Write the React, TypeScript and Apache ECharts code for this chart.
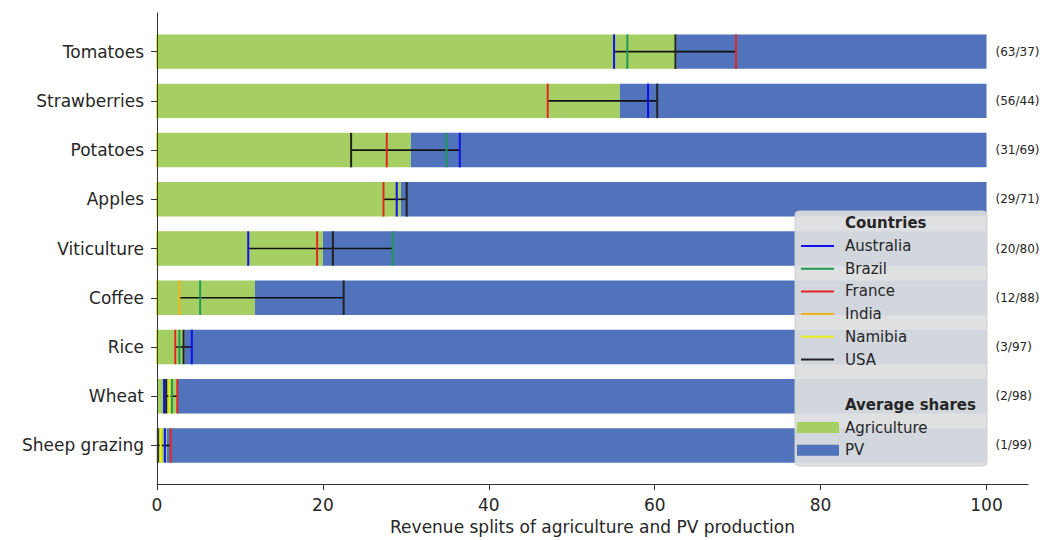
import React, { useEffect, useRef } from "react";
import * as echarts from "echarts";

// ---------------- data ----------------
const crops = [
  "Tomatoes",
  "Strawberries",
  "Potatoes",
  "Apples",
  "Viticulture",
  "Coffee",
  "Rice",
  "Wheat",
  "Sheep grazing",
];
const agricultureShare = [62.6, 55.8, 30.6, 29.4, 20.0, 11.8, 3.3, 2.4, 1.2];
const pvShare = [37.4, 44.2, 69.4, 70.6, 80.0, 88.2, 96.7, 97.6, 98.8];
const splitLabels = ["(63/37)", "(56/44)", "(31/69)", "(29/71)", "(20/80)", "(12/88)", "(3/97)", "(2/98)", "(1/99)"];

const countryNames = ["Australia", "Brazil", "France", "India", "Namibia", "USA"];
const australia = [55.1, 59.2, 36.5, 28.9, 11.0, null, 4.2, 0.85, 0.95];
const brazil = [56.7, null, 34.9, null, 28.4, 5.2, 2.7, 1.8, null];
const france = [69.8, 47.1, 27.7, 27.3, 19.3, null, 2.2, 2.45, 1.65];
const india = [null, null, null, null, null, 2.7, null, null, null];
const namibia = [0, 0, 0, 0, 0, 0, 0, 1.5, 0.45];
const usa = [62.5, 60.3, 23.4, 30.1, 21.2, 22.5, 3.2, 1.1, 0.1];

const xTicks = [0, 20, 40, 60, 80, 100];

// ---------------- styles ----------------
const countryColors = ["#1010f0", "#1f9a55", "#e42626", "#f3b31a", "#ecec1e", "#222222"];
const agriColor = "#a6cf63";
const pvColor = "#5073bb";
const FONT = "DejaVu Sans";
const TEXT = "#262626";
const BAR_H = 0.7;

export default function App() {
  const ref = useRef<HTMLDivElement>(null);

  useEffect(() => {
    if (!ref.current) return;
    const chart = echarts.init(ref.current, undefined, { renderer: "svg" });

    const countries = [australia, brazil, france, india, namibia, usa];

    const rectItem = (color: string) => (params: any, api: any) => {
      const idx = api.value(2);
      const s = api.coord([api.value(0), idx]);
      const e = api.coord([api.value(1), idx]);
      const h = api.size([0, BAR_H])[1];
      return {
        type: "rect",
        shape: { x: s[0], y: s[1] - h / 2, width: e[0] - s[0], height: h },
        style: { fill: color },
      };
    };

    const agriData = crops.map((_, i) => [0, agricultureShare[i], i]);
    const pvData = crops.map((_, i) => [agricultureShare[i], agricultureShare[i] + pvShare[i], i]);

    const rangeData: number[][] = [];
    crops.forEach((_, i) => {
      const vals = countries.map((c) => c[i]).filter((v) => v !== null && v > 0) as number[];
      if (vals.length > 1) rangeData.push([Math.min(...vals), Math.max(...vals), i]);
    });

    const countrySeries = countries.map((vals, ci) => ({
      type: "custom",
      name: countryNames[ci],
      z: 5,
      data: vals
        .map((v, i) => (v === null ? null : [v, i]))
        .filter((d) => d !== null),
      encode: { x: 0, y: 1 },
      renderItem: (params: any, api: any) => {
        const p = api.coord([api.value(0), api.value(1)]);
        const h = api.size([0, BAR_H])[1];
        return {
          type: "line",
          shape: { x1: p[0], y1: p[1] - h / 2, x2: p[0], y2: p[1] + h / 2 },
          style: { stroke: countryColors[ci], lineWidth: 2 },
        };
      },
    }));

    const legendY0 = 246;
    const step = 22.7;
    const Z = 100;
    const legendChildren: any[] = [
      {
        type: "rect",
        z: Z,
        shape: { x: 795, y: 211, width: 192, height: 255, r: 4 },
        style: { fill: "rgba(221,222,224,0.93)", stroke: "#cfcfcf", lineWidth: 1 },
      },
      {
        type: "text",
        z: Z + 1,
        style: {
          text: "Countries", x: 845, y: legendY0 - step, fontFamily: FONT, fontSize: 15,
          fontWeight: "bold", fill: TEXT, verticalAlign: "middle",
        },
      },
    ];
    countryNames.forEach((n, i) => {
      const y = legendY0 + i * step;
      legendChildren.push({
        type: "line",
        z: Z + 1,
        shape: { x1: 801, y1: y, x2: 834, y2: y },
        style: { stroke: countryColors[i], lineWidth: 2 },
      });
      legendChildren.push({
        type: "text",
        z: Z + 1,
        style: { text: n, x: 845, y, fontFamily: FONT, fontSize: 15, fill: TEXT, verticalAlign: "middle" },
      });
    });
    legendChildren.push({
      type: "text",
      z: Z + 1,
      style: {
        text: "Average shares", x: 845, y: legendY0 + 7 * step, fontFamily: FONT, fontSize: 15,
        fontWeight: "bold", fill: TEXT, verticalAlign: "middle",
      },
    });
    [["Agriculture", agriColor], ["PV", pvColor]].forEach(([n, c], k) => {
      const y = legendY0 + (8 + k) * step;
      legendChildren.push({
        type: "rect",
        z: Z + 1,
        shape: { x: 797, y: y - 5.5, width: 42, height: 11 },
        style: { fill: c },
      });
      legendChildren.push({
        type: "text",
        z: Z + 1,
        style: { text: n, x: 845, y, fontFamily: FONT, fontSize: 15, fill: TEXT, verticalAlign: "middle" },
      });
    });

    const idxTicks = crops.map((_, i) => i);

    chart.setOption({
      animation: false,
      textStyle: { fontFamily: FONT },
      grid: { left: 157, right: 20, top: 13, bottom: 42, containLabel: false },
      xAxis: {
        type: "value",
        min: 0,
        max: 105,
        interval: 20,
        name: "Revenue splits of agriculture and PV production",
        nameLocation: "middle",
        nameGap: 33,
        nameTextStyle: { fontSize: 17, color: TEXT, fontFamily: FONT },
        axisLine: { show: true, onZero: false, lineStyle: { color: "#333", width: 1 } },
        axisTick: { show: true, length: 6, customValues: xTicks, lineStyle: { color: "#333" } },
        axisLabel: { fontSize: 17, color: TEXT, margin: 12, customValues: xTicks, fontFamily: FONT },
        splitLine: { show: false },
      },
      yAxis: {
        type: "value",
        min: -0.785,
        max: 8.785,
        inverse: true,
        z: 10,
        axisLine: { show: true, onZero: false, lineStyle: { color: "#333", width: 1 } },
        axisTick: { show: true, length: 6, customValues: idxTicks, lineStyle: { color: "#333" } },
        axisLabel: {
          customValues: idxTicks,
          formatter: (v: number) => crops[Math.round(v)] ?? "",
          fontSize: 17,
          color: TEXT,
          margin: 13,
          fontFamily: FONT,
        },
        splitLine: { show: false },
      },
      series: [
        {
          type: "custom",
          name: "Agriculture",
          z: 2,
          data: agriData,
          encode: { x: [0, 1], y: 2 },
          renderItem: rectItem(agriColor),
        },
        {
          type: "custom",
          name: "PV",
          z: 2,
          data: pvData,
          encode: { x: [0, 1], y: 2 },
          renderItem: rectItem(pvColor),
        },
        {
          type: "custom",
          name: "range",
          z: 4,
          data: rangeData,
          encode: { x: [0, 1], y: 2 },
          renderItem: (params: any, api: any) => {
            const idx = api.value(2);
            const s = api.coord([api.value(0), idx]);
            const e = api.coord([api.value(1), idx]);
            return {
              type: "line",
              shape: { x1: s[0], y1: s[1], x2: e[0], y2: e[1] },
              style: { stroke: "#111", lineWidth: 1.6 },
            };
          },
        },
        ...countrySeries,
        {
          type: "custom",
          name: "splits",
          z: 6,
          data: crops.map((_, i) => [agricultureShare[i] + pvShare[i], i]),
          encode: { x: 0, y: 1 },
          renderItem: (params: any, api: any) => {
            const i = api.value(1);
            const p = api.coord([api.value(0), i]);
            return {
              type: "text",
              style: {
                text: splitLabels[i],
                x: p[0] + 9,
                y: p[1],
                fontFamily: FONT,
                fontSize: 12,
                fill: TEXT,
                verticalAlign: "middle",
                align: "left",
              },
            };
          },
        },
      ],
      graphic: [{ type: "group", z: Z, children: legendChildren }],
    });

    return () => chart.dispose();
  }, []);

  return (
    <div
      ref={ref}
      style={{ position: "fixed", left: 0, top: 0, width: 1048, height: 540, background: "#fff" }}
    />
  );
}
